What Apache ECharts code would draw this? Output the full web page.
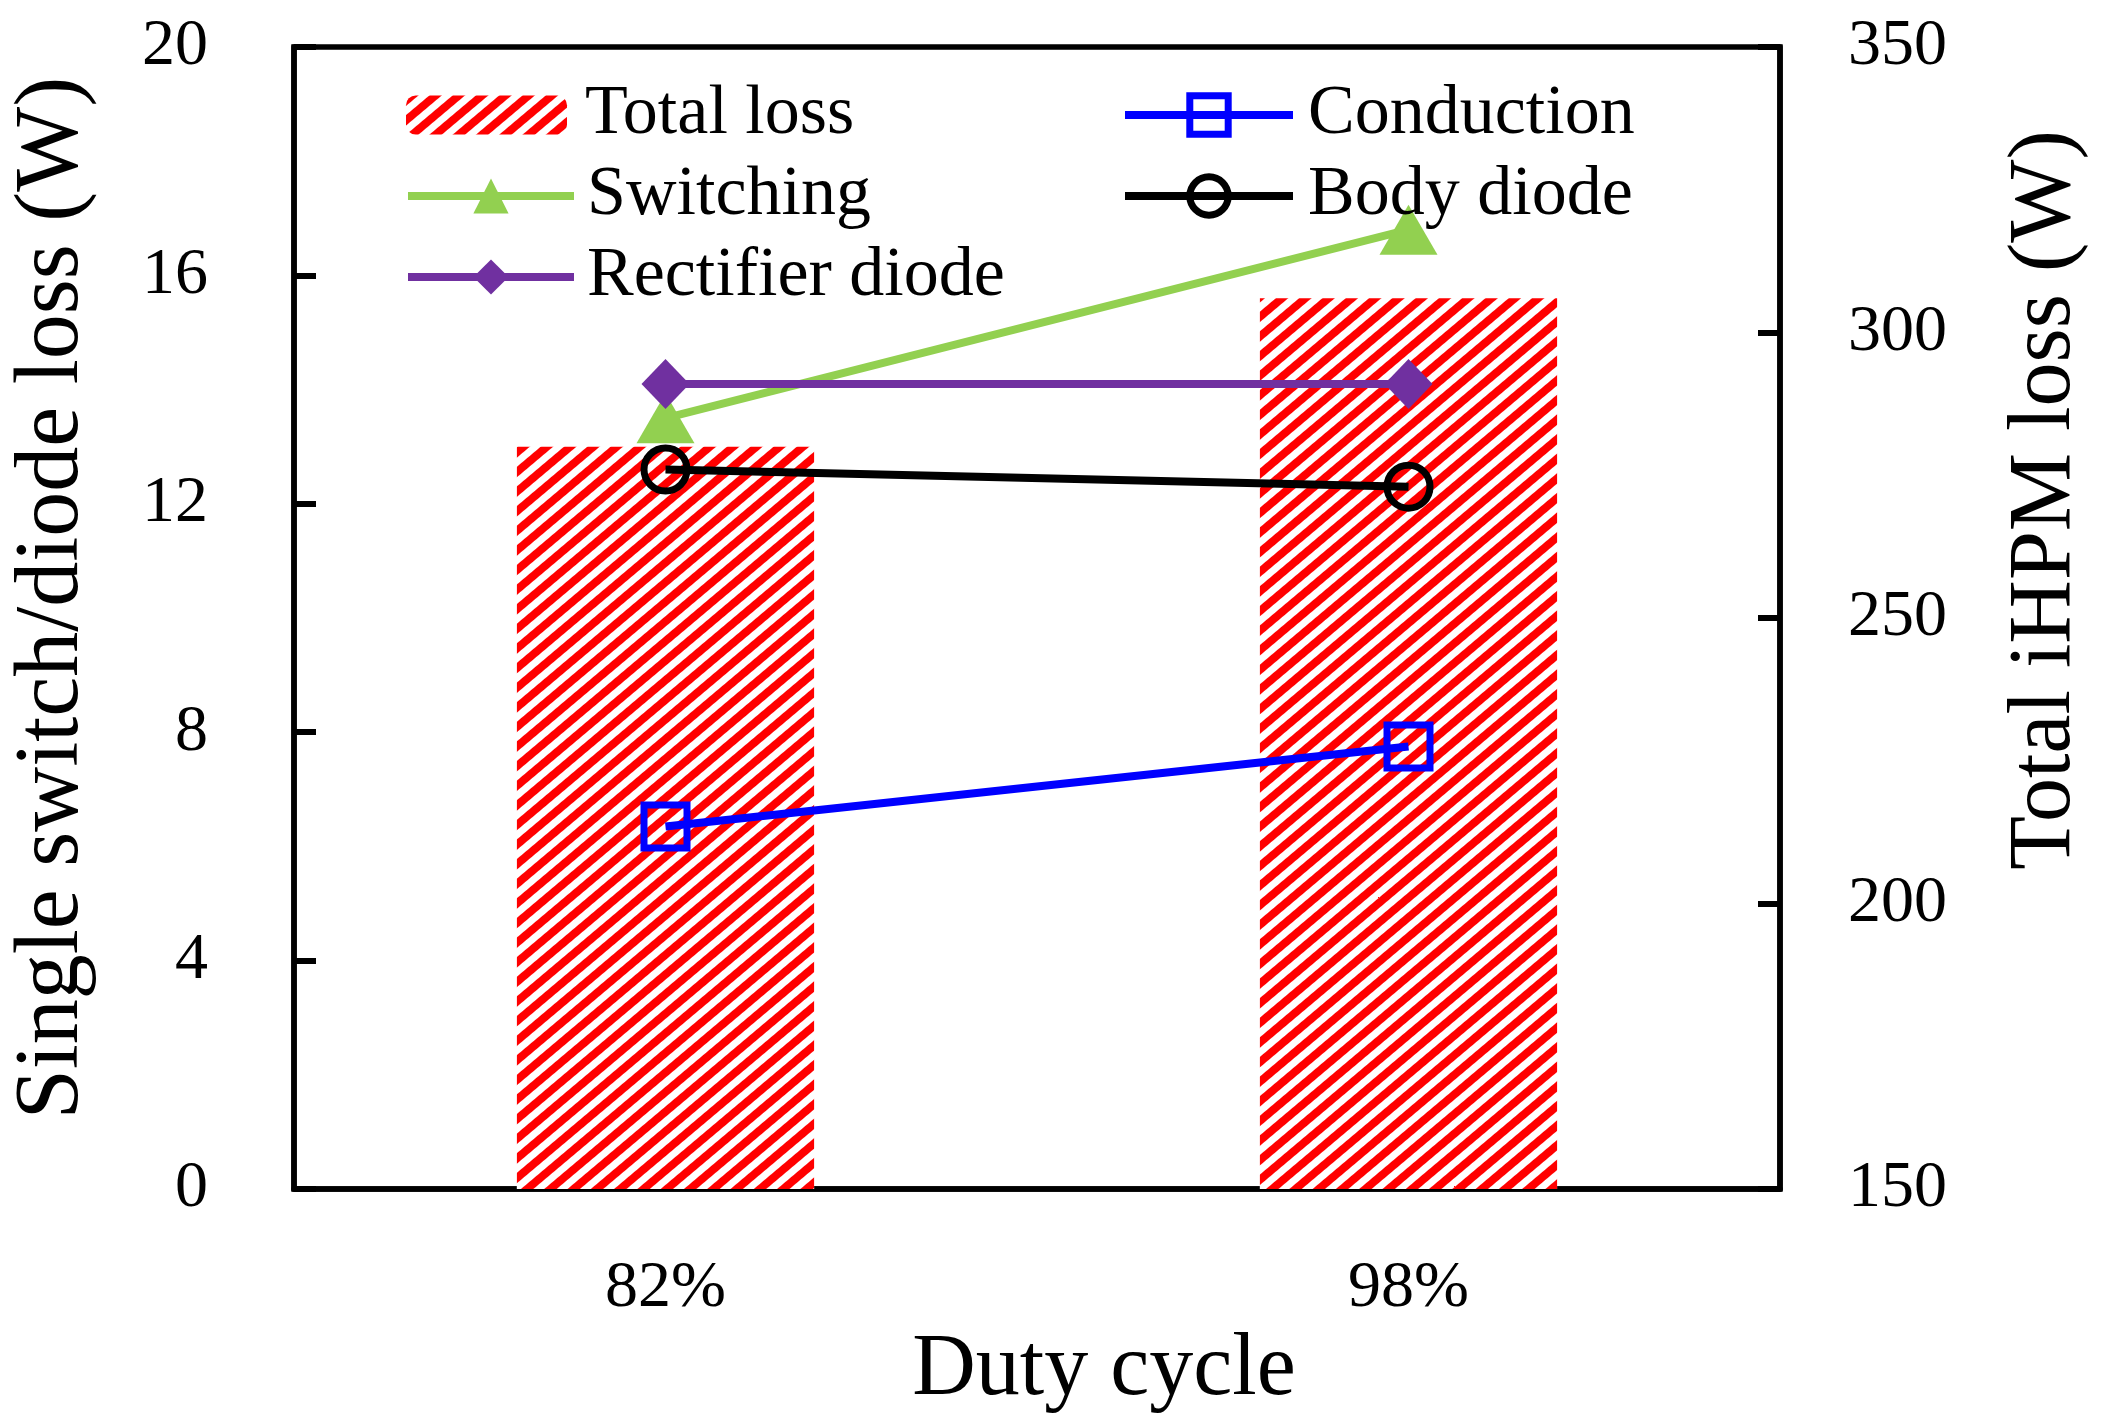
<!DOCTYPE html>
<html>
<head>
<meta charset="utf-8">
<script src="https://cdn.jsdelivr.net/npm/echarts@6/dist/echarts.min.js"></script>
<style>html,body{margin:0;padding:0;background:#fff;}#c{width:2103px;height:1426px;}</style>
</head>
<body>
<div id="c"></div>
<script>
const categories = ['82%', '98%'];
const totalLoss = [280, 306];
const conduction = [6.35, 7.75];
const switching = [13.5, 16.8];
const bodyDiode = [12.6, 12.3];
const rectifierDiode = [14.1, 14.1];
const leftAxis = { min: 0, max: 20, interval: 4 };
const rightAxis = { min: 150, max: 350, interval: 50 };

const FONT = '"Liberation Serif", "Times New Roman", Times, serif';
const chart = echarts.init(document.getElementById('c'), null, { renderer: 'canvas' });
const axisLineStyle = { color: '#000', width: 5.5 };
const legendText = (pad) => ({ fontFamily: FONT, fontSize: 70, lineHeight: 70, color: '#000', padding: [0, 0, 0, pad] });

chart.setOption({
  backgroundColor: '#fff',
  animation: false,
  grid: { left: 291, right: 323, top: 47, bottom: 237, show: true, borderColor: '#000', borderWidth: 5.5, backgroundColor: 'transparent' },
  legend: [
    { data: ['Total loss'], left: 401, top: 75, orient: 'vertical', itemWidth: 161, itemHeight: 39, textStyle: legendText(13), selectedMode: false },
    { data: ['Switching', 'Rectifier diode'], left: 399, top: 156, orient: 'vertical', itemGap: 11, itemWidth: 166, itemHeight: 44, textStyle: legendText(8), selectedMode: false,
      lineStyle: { width: 8 } },
    { data: ['Conduction', 'Body diode'], left: 1116, top: 75, orient: 'vertical', itemGap: 11, itemWidth: 168, itemHeight: 48, textStyle: legendText(10), selectedMode: false,
      lineStyle: { width: 8 }, itemStyle: { borderWidth: 7 } }
  ],
  xAxis: {
    type: 'category', data: categories,
    name: 'Duty cycle', nameLocation: 'middle', nameGap: 125,
    nameTextStyle: { fontFamily: FONT, fontSize: 88, color: '#000', padding: [0, 0, 0, 134] },
    axisLine: { lineStyle: axisLineStyle }, axisTick: { show: false },
    axisLabel: { fontFamily: FONT, fontSize: 66, color: '#000', margin: 67 }
  },
  yAxis: [
    {
      type: 'value', min: leftAxis.min, max: leftAxis.max, interval: leftAxis.interval, position: 'left',
      name: 'Single switch/diode loss (W)', nameLocation: 'middle', nameGap: 196, nameRotate: 90,
      nameTextStyle: { fontFamily: FONT, fontSize: 90, color: '#000', padding: [0, 0, 0, 40] },
      axisLine: { show: true, lineStyle: axisLineStyle },
      axisTick: { show: true, inside: true, length: 22, lineStyle: { color: '#000', width: 6 } },
      axisLabel: { fontFamily: FONT, fontSize: 66, color: '#000', margin: 86 },
      splitLine: { show: false }
    },
    {
      type: 'value', min: rightAxis.min, max: rightAxis.max, interval: rightAxis.interval, position: 'right',
      name: 'Total iHPM loss (W)', nameLocation: 'middle', nameGap: 222, nameRotate: 90,
      nameTextStyle: { fontFamily: FONT, fontSize: 88, color: '#000', padding: [0, 0, 0, 236] },
      axisLine: { show: true, lineStyle: axisLineStyle },
      axisTick: { show: true, inside: true, length: 22, lineStyle: { color: '#000', width: 6 } },
      axisLabel: { fontFamily: FONT, fontSize: 66, color: '#000', margin: 68 },
      splitLine: { show: false }
    }
  ],
  series: [
    {
      name: 'Total loss', type: 'bar', yAxisIndex: 1, data: totalLoss, barWidth: '40%',
      itemStyle: {
        color: '#ffffff',
        decal: { color: '#ff0000', backgroundColor: '#ffffff', symbol: 'rect', symbolSize: 1, dashArrayX: [1, 0], dashArrayY: [7.5, 7], rotation: -0.7 }
      }
    },
    {
      name: 'Conduction', type: 'line', yAxisIndex: 0, data: conduction,
      symbol: 'rect', symbolSize: 43,
      lineStyle: { color: '#0000ff', width: 8 },
      itemStyle: { color: 'rgba(0,0,0,0)', borderColor: '#0000ff', borderWidth: 7 }
    },
    {
      name: 'Switching', type: 'line', yAxisIndex: 0, data: switching,
      symbol: 'triangle', symbolSize: [58, 50], symbolKeepAspect: false,
      lineStyle: { color: '#92d050', width: 8 },
      itemStyle: { color: '#92d050' }
    },
    {
      name: 'Body diode', type: 'line', yAxisIndex: 0, data: bodyDiode,
      symbol: 'circle', symbolSize: 43,
      lineStyle: { color: '#000000', width: 8 },
      itemStyle: { color: 'rgba(0,0,0,0)', borderColor: '#000000', borderWidth: 7 }
    },
    {
      name: 'Rectifier diode', type: 'line', yAxisIndex: 0, data: rectifierDiode,
      symbol: 'diamond', symbolSize: [48, 50],
      lineStyle: { color: '#7030a0', width: 8 },
      itemStyle: { color: '#7030a0' }
    }
  ]
});
</script>
</body>
</html>
